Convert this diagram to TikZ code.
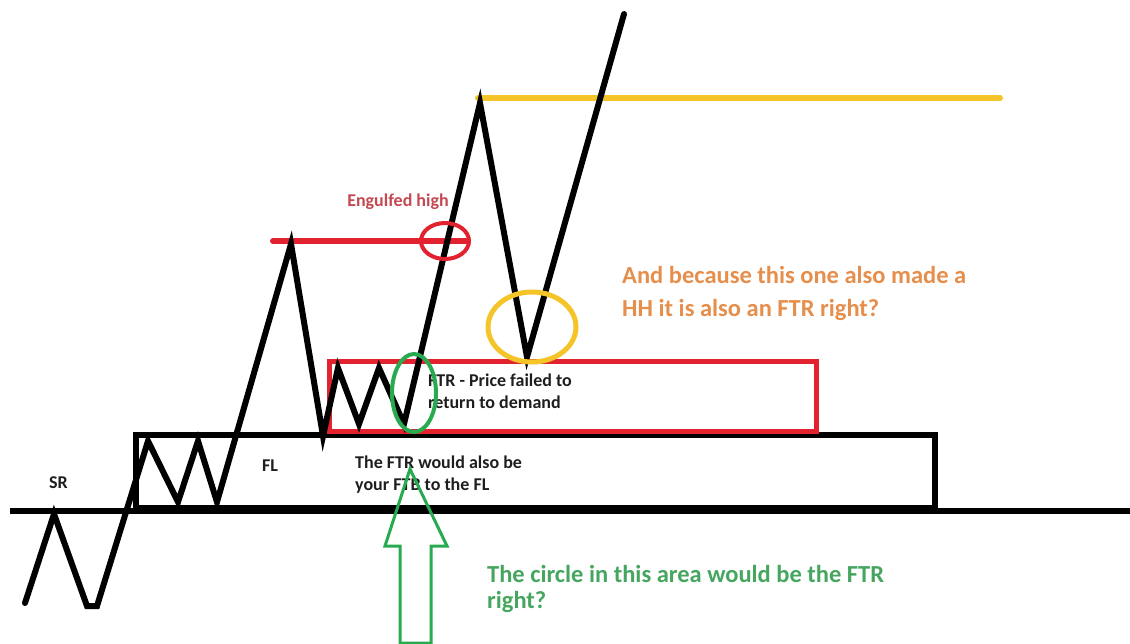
\documentclass[tikz,border=0pt]{standalone}
\usepackage{fontspec}
\usetikzlibrary{shapes.geometric}
\setmainfont{Carlito}
\definecolor{pred}{RGB}{226,34,46}
\definecolor{pyellow}{RGB}{244,196,40}
\definecolor{pgreen}{RGB}{40,170,80}
\definecolor{ptxtgreen}{RGB}{70,165,95}
\definecolor{porange}{RGB}{230,142,75}
\definecolor{pengulf}{RGB}{196,72,82}
\definecolor{ptxt}{RGB}{30,30,30}
\tikzset{
  price/.style={line width=6pt, black, line join=miter, line cap=round},
  zonebox/.style={line width=6pt, black},
  ftrbox/.style={line width=5pt, pred},
  lbl/.style={font=\bfseries\fontsize{18}{22}\selectfont, text=ptxt, anchor=base west, inner sep=0pt},
  bigorange/.style={font=\bfseries\fontsize{24.5}{29}\selectfont, text=porange, anchor=base west, inner sep=0pt},
  biggreen/.style={font=\bfseries\fontsize{24.5}{27}\selectfont, text=ptxtgreen, anchor=base west, inner sep=0pt},
}
\begin{document}
\begin{tikzpicture}[x=1pt,y=-1pt]
\useasboundingbox (0,0) rectangle (1130,643);
% texts
\node[lbl] (sr) at (49,488) {SR};
\node[lbl] (fl) at (262,471) {FL};
\node[lbl] (ftba) at (355,468) {The FTR would also be};
\node[lbl] (ftbb) at (355,490) {your FTB to the FL};
\node[lbl] (ftra) at (428,386) {FTR - Price failed to};
\node[lbl] (ftrb) at (428,408) {return to demand};
\node[font=\bfseries\fontsize{18}{20}\selectfont, text=pengulf, anchor=base, inner sep=0pt] (eng) at (398,206) {Engulfed high};
\node[bigorange] (hha) at (622,283) {And because this one also made a};
\node[bigorange] (hhb) at (622,316) {HH it is also an FTR right?};
\node[biggreen] (qa) at (487,582) {The circle in this area would be the FTR};
\node[biggreen] (qb) at (487,608) {right?};
% levels
\coordinate (ml0) at (10,511); \coordinate (ml1) at (1130,511);
\draw[line width=6pt] (ml0) -- (ml1);
\coordinate (fb0) at (136,435); \coordinate (fb1) at (935,508);
\draw[zonebox] (fb0) rectangle (fb1);
\coordinate (rb0) at (329,361); \coordinate (rb1) at (816,431);
\draw[ftrbox] (rb0) rectangle (rb1);
\coordinate (rl0) at (273,241); \coordinate (rl1) at (468,241);
\draw[line width=6pt, pred, line cap=round] (rl0) -- (rl1);
\coordinate (yl0) at (478,98); \coordinate (yl1) at (1000,98);
\draw[line width=6pt, pyellow, line cap=round] (yl0) -- (yl1);
% price path
\coordinate (p0) at (25,603);
\coordinate (p1) at (54,514);
\coordinate (p2) at (87,606);
\coordinate (p3) at (97,606);
\coordinate (p4) at (148,441);
\coordinate (p5) at (178,502);
\coordinate (p6) at (198,441);
\coordinate (p7) at (217,502);
\coordinate (p8) at (291,244);
\coordinate (p9) at (323,436);
\coordinate (p10) at (338,368);
\coordinate (p11) at (359,424);
\coordinate (p12) at (379,368);
\coordinate (p13) at (404,424);
\coordinate (p14) at (480,103);
\coordinate (p15) at (527,357);
\coordinate (p16) at (624,14);
\draw[price] (p0) -- (p1) -- (p2) -- (p3) -- (p4) -- (p5) -- (p6) -- (p7) -- (p8) -- (p9) -- (p10) -- (p11) -- (p12) -- (p13) -- (p14) -- (p15) -- (p16);
% circles
\node[draw=pred, line width=4pt, ellipse, minimum width=48pt, minimum height=36pt, inner sep=0pt] (rc) at (445,241) {};
\node[draw=pyellow, line width=5pt, ellipse, minimum width=88pt, minimum height=70pt, inner sep=0pt] (yc) at (532,327) {};
\node[draw=pgreen, line width=4pt, ellipse, minimum width=44pt, minimum height=78pt, inner sep=0pt] (gc) at (414,393) {};
% arrow
\coordinate (a0) at (410,469);
\coordinate (a1) at (447,546);
\coordinate (a2) at (431,546);
\coordinate (a3) at (431,643);
\coordinate (a4) at (400,643);
\coordinate (a5) at (400,546);
\coordinate (a6) at (385,546);
\draw[line width=3pt, pgreen] (a0) -- (a1) -- (a2) -- (a3) -- (a4) -- (a5) -- (a6) -- cycle;
\end{tikzpicture}
\end{document}
